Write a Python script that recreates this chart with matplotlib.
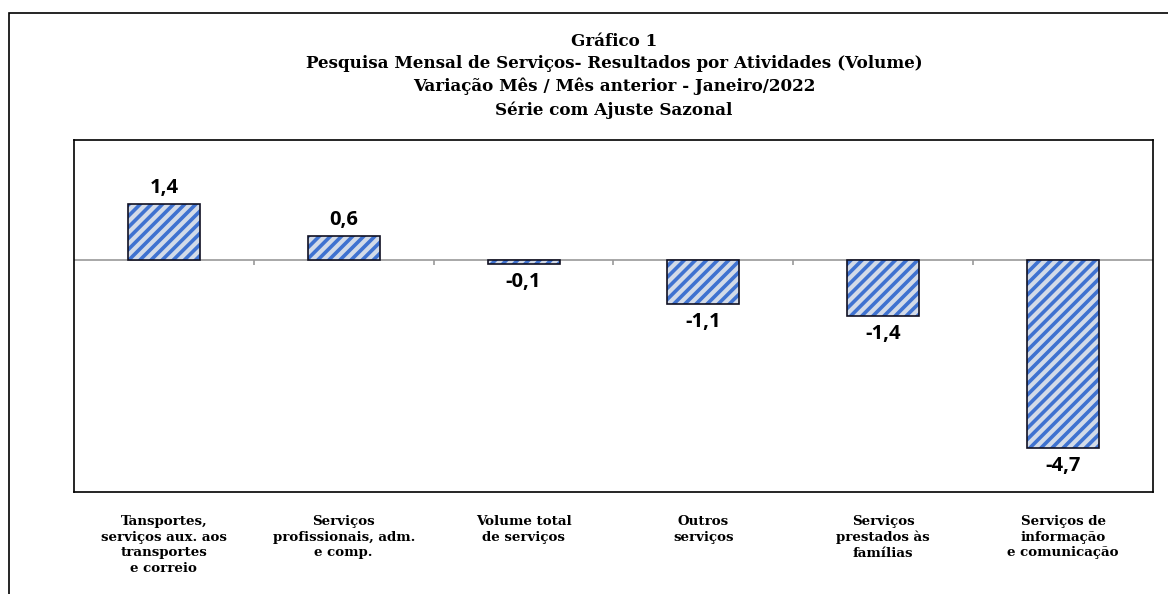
import numpy as np
import matplotlib.pyplot as plt
from matplotlib.patches import Rectangle

categories = [
    "Tansportes,\nserviços aux. aos\ntransportes\ne correio",
    "Serviços\nprofissionais, adm.\ne comp.",
    "Volume total\nde serviços",
    "Outros\nserviços",
    "Serviços\nprestados às\nfamílias",
    "Serviços de\ninformação\ne comunicação",
]
values = [1.4, 0.6, -0.1, -1.1, -1.4, -4.7]
value_labels = ["1,4", "0,6", "-0,1", "-1,1", "-1,4", "-4,7"]
title_lines = [
    "Gráfico 1",
    "Pesquisa Mensal de Serviços- Resultados por Atividades (Volume)",
    "Variação Mês / Mês anterior - Janeiro/2022",
    "Série com Ajuste Sazonal",
]

serif = ["DejaVu Serif"]
sans = ["Open Sans", "DejaVu Sans"]

plt.rcParams["hatch.linewidth"] = 2.6
plt.rcParams["hatch.color"] = "#3f72d0"

fig = plt.figure(figsize=(11.68, 5.94), dpi=100)
ax = fig.add_axes([74 / 1168, 1 - 492 / 594, (1153 - 74) / 1168, (492 - 140) / 594])

x = np.arange(len(categories))
# fill + hatch
ax.bar(x, values, width=0.4, color="#d3dbe8", edgecolor="#3f72d0",
       hatch="///", linewidth=0, zorder=2)
# outline
ax.bar(x, values, width=0.4, color="none", edgecolor="#111122",
       linewidth=1.2, zorder=3)

# zero line with small ticks between categories
ax.axhline(0, color="#999999", linewidth=1.2, zorder=1)
ax.vlines(x[:-1] + 0.5, -0.12, 0, color="#999999", linewidth=1.2, zorder=1)

for xi, v, lab in zip(x, values, value_labels):
    if v >= 0:
        ax.text(xi, v + 0.15, lab, ha="center", va="bottom",
                fontsize=14.5, fontweight="bold", family=sans)
    else:
        ax.text(xi, v - 0.2, lab, ha="center", va="top",
                fontsize=14.5, fontweight="bold", family=sans)

ax.set_xlim(-0.5, len(categories) - 0.5)
ax.set_ylim(-5.8, 3.0)
ax.set_xticks([])
ax.set_yticks([])
for s in ax.spines.values():
    s.set_linewidth(1.2)
    s.set_color("black")

for xi, cat in zip(x, categories):
    ax.text(xi, -6.38, cat, ha="center", va="top", fontsize=9.6,
            fontweight="bold", family=serif, linespacing=1.25,
            clip_on=False)

title_y = [41, 63, 86, 110]
for ty, line in zip(title_y, title_lines):
    fig.text(614 / 1168, 1 - ty / 594, line, ha="center", va="center",
             fontsize=12.1, fontweight="bold", family=serif)

# outer chart-area frame (runs off the right and bottom edges)
fig.patches.append(Rectangle((9 / 1168, -0.1), 1.2, 1 - 13 / 594 + 0.1,
                             transform=fig.transFigure, fill=False,
                             edgecolor="black", linewidth=1.2))

fig.savefig("out.png", dpi=100)
